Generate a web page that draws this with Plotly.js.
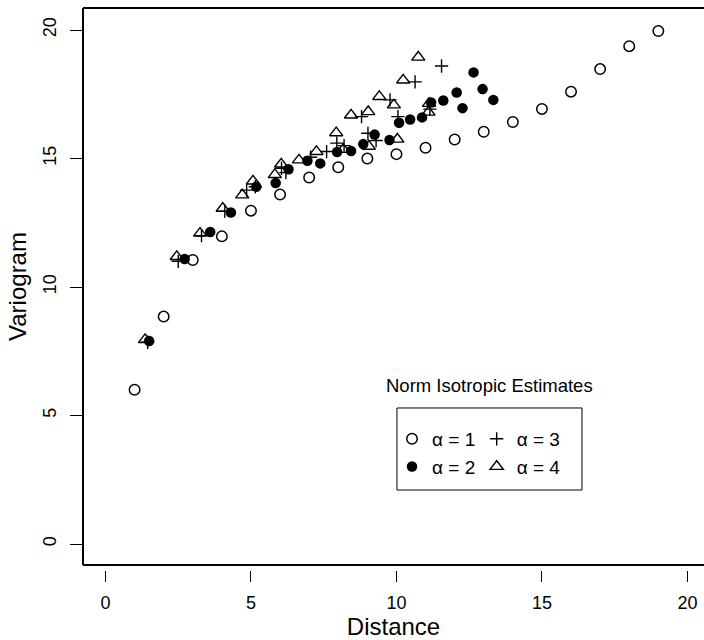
<!DOCTYPE html>
<html>
<head>
<meta charset="utf-8">
<script src="https://cdn.plot.ly/plotly-3.0.1.min.js"></script>
<style>html,body{margin:0;padding:0;background:#fff;overflow:hidden}#chart{width:704px;height:640px}</style>
</head>
<body>
<div id="chart"></div>
<script>
// alpha = 1 (open circles)
const alpha1X = [1, 2, 3, 4, 5, 6, 7, 8, 9, 10, 11, 12, 13, 14, 15, 16, 17, 18, 19];
const alpha1Y = [6.0, 8.85, 11.05, 11.97, 12.97, 13.6, 14.26, 14.66, 15.0, 15.17, 15.42, 15.74, 16.04, 16.42, 16.93, 17.6, 18.48, 19.37, 19.96];
// alpha = 2 (filled circles)
const alpha2X = [1.5, 2.72, 3.6, 4.31, 5.18, 5.85, 6.29, 6.94, 7.38, 7.96, 8.44, 8.86, 9.25, 9.76, 10.09, 10.47, 10.88, 11.19, 11.61, 12.07, 12.27, 12.65, 12.96, 13.33];
const alpha2Y = [7.9, 11.09, 12.14, 12.9, 13.9, 14.05, 14.58, 14.91, 14.81, 15.25, 15.29, 15.56, 15.93, 15.72, 16.39, 16.52, 16.6, 17.18, 17.26, 17.57, 16.96, 18.35, 17.7, 17.28];
// alpha = 3 (plus)
const alpha3X = [1.45, 2.5, 3.3, 4.1, 4.85, 5.15, 6.05, 6.2, 7.05, 7.6, 7.95, 8.2, 8.8, 9.02, 9.3, 9.78, 10.05, 10.64, 11.15, 11.55];
const alpha3Y = [7.85, 11.0, 12.0, 12.95, 13.77, 13.9, 14.62, 14.45, 15.05, 15.27, 15.6, 15.5, 16.63, 15.98, 15.7, 17.28, 16.63, 17.98, 16.92, 18.6];
// alpha = 4 (triangles)
const alpha4X = [1.36, 2.45, 3.25, 4.03, 4.7, 5.07, 5.82, 6.04, 6.65, 7.25, 7.93, 8.17, 8.44, 9.03, 9.05, 9.41, 9.91, 10.03, 10.23, 10.75, 11.12, 11.1];
const alpha4Y = [7.95, 11.18, 12.09, 13.06, 13.58, 14.12, 14.37, 14.78, 14.94, 15.27, 16.0, 15.35, 16.69, 16.82, 15.47, 17.41, 17.08, 15.75, 18.05, 18.94, 17.14, 16.8];

const seriesNames = ['α = 1', 'α = 2', 'α = 3', 'α = 4'];
const xTicks = [0, 5, 10, 15, 20];
const yTicks = [0, 5, 10, 15, 20];
const xTitle = 'Distance';
const yTitle = 'Variogram';
const legendTitle = 'Norm Isotropic Estimates';

const FONT = 'Liberation Sans, Arial, sans-serif';

const traces = [
  {x: alpha1X, y: alpha1Y, name: seriesNames[0], type: 'scatter', mode: 'markers', legend: 'legend',
   marker: {symbol: 'circle-open', size: 10.5, color: '#000', line: {width: 1.5, color: '#000'}}},
  {x: alpha2X, y: alpha2Y, name: seriesNames[1], type: 'scatter', mode: 'markers', legend: 'legend',
   marker: {symbol: 'circle', size: 10.5, color: '#000'}},
  {x: alpha3X, y: alpha3Y, name: seriesNames[2], type: 'scatter', mode: 'markers', legend: 'legend2',
   marker: {symbol: 'cross-thin-open', size: 9.5, color: '#000', line: {width: 1.4, color: '#000'}}},
  {x: alpha4X, y: alpha4Y, name: seriesNames[3], type: 'scatter', mode: 'markers', legend: 'legend2',
   marker: {symbol: 'triangle-up-open', size: 11.5, color: '#000', line: {width: 1.4, color: '#000'}}}
];

const legendCommon = {
  xanchor: 'left', yanchor: 'top', bgcolor: 'rgba(0,0,0,0)', borderwidth: 0,
  font: {family: FONT, size: 19, color: '#000'}, tracegroupgap: 0, itemclick: false
};

const layout = {
  width: 704, height: 640,
  margin: {l: 83, r: 0, t: 8, b: 70, pad: 0},
  paper_bgcolor: '#fff', plot_bgcolor: '#fff',
  font: {family: FONT, color: '#000'},
  showlegend: true,
  xaxis: {
    range: [-0.773, 20.57], anchor: 'free', position: 0,
    showline: false, showgrid: false, zeroline: false,
    ticks: 'outside', ticklen: 11, tickwidth: 1, tickcolor: '#000',
    tickvals: xTicks, ticktext: xTicks.map(String), ticklabelstandoff: 5,
    tickfont: {family: FONT, size: 18, color: '#000'},
    title: {text: xTitle, font: {family: FONT, size: 24, color: '#000'}, standoff: 5},
    automargin: false
  },
  yaxis: {
    range: [-0.817, 20.856], domain: [5 / 562, 1], anchor: 'x',
    showline: false, showgrid: false, zeroline: false,
    ticks: 'outside', ticklen: 12, tickwidth: 1, tickcolor: '#000',
    tickvals: yTicks, ticktext: yTicks.map(String), tickangle: -90, ticklabelstandoff: 7,
    tickfont: {family: FONT, size: 18, color: '#000'},
    title: {text: yTitle, font: {family: FONT, size: 24, color: '#000'}, standoff: 6},
    automargin: false
  },
  legend: Object.assign({x: 0.4976, y: 0.267}, legendCommon),
  legend2: Object.assign({x: 0.634, y: 0.267}, legendCommon),
  shapes: [
    {type: 'line', xref: 'paper', yref: 'y domain', x0: 0, x1: 1.02, y0: 0, y1: 0, line: {color: '#000', width: 2}},
    {type: 'line', xref: 'paper', yref: 'y domain', x0: 0, x1: 1.02, y0: 1, y1: 1, line: {color: '#000', width: 2}},
    {type: 'line', xref: 'paper', yref: 'y domain', x0: 0, x1: 0, y0: 0, y1: 1, line: {color: '#000', width: 2}},
    {type: 'rect', xref: 'paper', yref: 'paper', x0: 0.5056, x1: 0.8035, y0: 0.1423, y1: 0.2883, line: {color: '#000', width: 1}, fillcolor: 'rgba(0,0,0,0)'}
  ],
  annotations: [
    {text: legendTitle, xref: 'paper', yref: 'paper', x: 0.654, y: 0.329, xanchor: 'center', yanchor: 'middle',
     showarrow: false, font: {family: FONT, size: 18.5, color: '#000'}}
  ]
};

Plotly.newPlot('chart', traces, layout, {staticPlot: true, displayModeBar: false});
</script>
</body>
</html>
